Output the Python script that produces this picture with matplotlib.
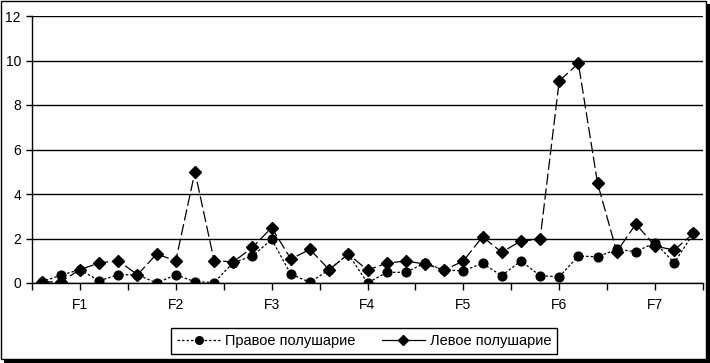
import matplotlib
matplotlib.use("Agg")
import matplotlib.pyplot as plt
from matplotlib.patches import Rectangle
from matplotlib.lines import Line2D
import numpy as np

plt.rcParams['font.family'] = ['Liberation Sans', 'DejaVu Sans']

groups = ["F1", "F2", "F3", "F4", "F5", "F6", "F7"]
points_per_group = 5
right_hemi = [0.05, 0.35, 0.6, 0.1, 0.37, 0.37, 0.0, 0.37, 0.06, 0.02,
              0.92, 1.21, 1.96, 0.4, 0.03, 0.6, 1.3, 0.0, 0.48, 0.48,
              0.9, 0.58, 0.55, 0.88, 0.33, 0.99, 0.33, 0.28, 1.21, 1.18,
              1.51, 1.41, 1.81, 0.91, 2.23]
left_hemi = [0.05, 0.05, 0.6, 0.9, 1.0, 0.37, 1.3, 1.0, 5.0, 1.0,
             0.95, 1.6, 2.49, 1.08, 1.51, 0.6, 1.3, 0.58, 0.89, 0.99,
             0.85, 0.58, 0.99, 2.08, 1.38, 1.89, 1.96, 9.08, 9.87, 4.48,
             1.41, 2.65, 1.66, 1.48, 2.23]
series_names = ["Правое полушарие", "Левое полушарие"]

W, H = 710, 363
fig = plt.figure(figsize=(W / 100, H / 100), dpi=100)
fig.patch.set_facecolor("white")

ax = fig.add_axes([32 / W, (H - 283) / H, (703 - 32) / W, (283 - 16) / H])
n = len(right_hemi)
x = np.arange(n)

ax.set_xlim(-0.5, n - 0.5)
ax.set_ylim(0, 12)
ax.set_yticks(np.arange(0, 13, 2))
ax.yaxis.grid(True, color="black", linewidth=1.0)
ax.set_axisbelow(True)

ax.plot(x, right_hemi, color="black", linewidth=0.9,
        linestyle=(0, (2.0, 1.6)), marker="o", markersize=6.3,
        markerfacecolor="black", markeredgecolor="black", zorder=3)
ax.plot(x, left_hemi, color="black", linewidth=0.9,
        linestyle=(0, (9, 3)), marker="D", markersize=6.3,
        markerfacecolor="black", markeredgecolor="black", zorder=4)

centers = [g * points_per_group + (points_per_group - 1) / 2 for g in range(len(groups))]
ax.set_xticks(centers)
ax.set_xticklabels(groups)
bounds = [g * points_per_group - 0.5 for g in range(len(groups) + 1)]
ax.set_xticks(bounds, minor=True)
ax.tick_params(axis="x", which="both", length=5, width=1, color="black",
               direction="out", labelsize=10, pad=6)
ax.tick_params(axis="y", length=4, width=1, color="black",
               direction="out", labelsize=10, pad=4)

for s in ["top", "right"]:
    ax.spines[s].set_visible(False)
for s in ["left", "bottom"]:
    ax.spines[s].set_color("black")
    ax.spines[s].set_linewidth(1.0)
ax.set_facecolor("white")

h1 = Line2D([], [], color="black", linewidth=0.9, linestyle=(0, (2.0, 1.6)),
            marker="o", markersize=5.5, markerfacecolor="black", markeredgecolor="black")
h2 = Line2D([], [], color="black", linewidth=0.9, linestyle="-",
            marker="D", markersize=5, markerfacecolor="black", markeredgecolor="black")
leg = fig.legend([h1, h2], series_names, loc="center",
                 bbox_to_anchor=(364 / W, (H - 341) / H), ncol=2,
                 frameon=True, fancybox=False, framealpha=1,
                 edgecolor="black", fontsize=10.5, handlelength=3.0,
                 columnspacing=1.8, handletextpad=0.3, borderpad=0.4,
                 borderaxespad=0)
leg.get_frame().set_linewidth(1.0)

# outer frame with shadow
fig.patches.append(Rectangle((0.5 / W, 4 / H), 705.5 / W, 358.5 / H, transform=fig.transFigure,
                             fill=False, edgecolor="black", linewidth=1.0))
fig.patches.append(Rectangle((706 / W, 0), 4 / W, (H - 4) / H, transform=fig.transFigure,
                             facecolor="black", edgecolor="none"))
fig.patches.append(Rectangle((4 / W, 0), (W - 4) / W, 4 / H, transform=fig.transFigure,
                             facecolor="black", edgecolor="none"))

fig.savefig("out.png", dpi=100)
